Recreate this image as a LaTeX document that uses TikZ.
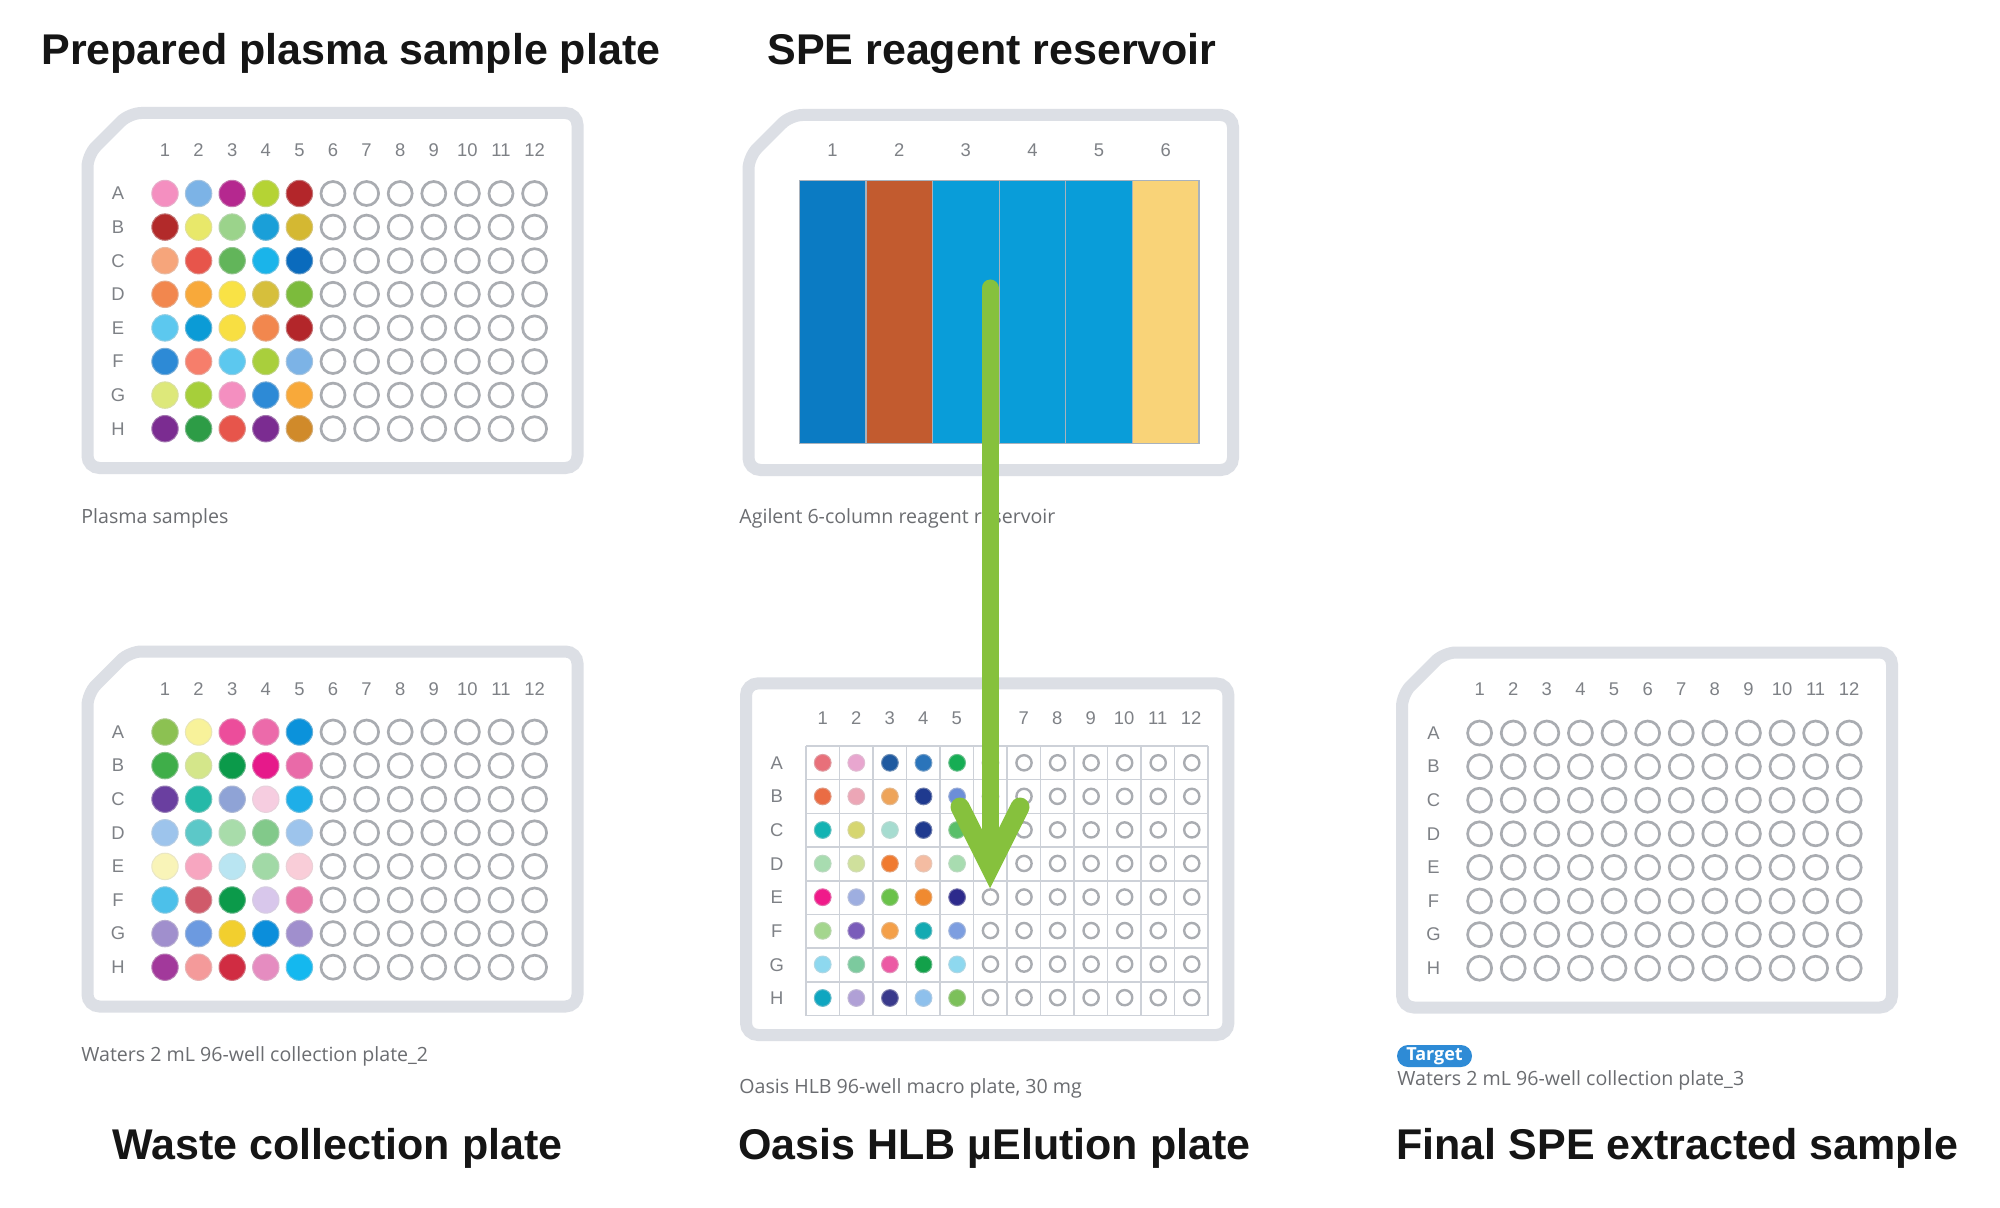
\documentclass[tikz,border=0pt]{standalone}
\usepackage{fontspec}
\setmainfont{Liberation Sans}
\newfontfamily\osans{Open Sans}
\definecolor{framegray}{HTML}{DCDFE5}
\definecolor{wellgray}{HTML}{A9ACB1}
\definecolor{lblgray}{HTML}{7E8186}
\definecolor{capgray}{HTML}{6B6D71}
\definecolor{titleblack}{HTML}{151515}
\definecolor{gridgray}{HTML}{CDD1D8}
\definecolor{resgray}{HTML}{A9B2BC}
\definecolor{arrgreen}{HTML}{86C13D}
\definecolor{badgeblue}{HTML}{2E8BD6}
\tikzset{
  plateframe/.style={draw=framegray, line width=6pt, rounded corners=6pt, fill=white},
  emptywell/.style={draw=wellgray, line width=1.35pt},
  smallempty/.style={draw=wellgray, line width=1.2pt},
  platelbl/.style={font=\fontsize{9.2pt}{10pt}\selectfont, text=lblgray, inner sep=0pt},
  caption/.style={font=\osans\fontsize{9.8pt}{11pt}\selectfont, text=capgray, inner sep=0pt, anchor=base west},
  titletext/.style={font=\bfseries\fontsize{21.5pt}{24pt}\selectfont, text=titleblack, inner sep=0pt, anchor=base west},
  badge/.style={fill=badgeblue, text=white, rounded corners=5.5pt, minimum width=37.5pt, minimum height=11pt, inner sep=0pt, font=\osans\bfseries\fontsize{9pt}{10pt}\selectfont},
  gridline/.style={draw=gridgray, line width=0.75pt},
  arrowshaft/.style={draw=arrgreen, line width=8.5pt, line cap=round},
  arrowhead/.style={draw=arrgreen, line width=9.5pt, line cap=round, line join=miter},
}
% filled wells: #1 c0, #2 r0, #3 pitch, #4 radius, #5 list (row-major, 5 per row)
\newcommand\mycolwells[5]{%
  \foreach \h [count=\i from 0] in {#5}{%
    \pgfmathtruncatemacro\myrow{\i/5}%
    \pgfmathtruncatemacro\mycol{\i-5*\myrow}%
    \definecolor{tmpw}{HTML}{\h}%
    \filldraw[fill=tmpw, draw=tmpw!80!gray!70, line width=0.5pt] ({#1+\mycol*#3},{#2+\myrow*#3}) circle[radius=#4];
  }}
% empty wells: #1 c0, #2 r0, #3 pitch, #4 radius, #5 first column index, #6 style
\newcommand\myemptywells[6]{%
  \foreach \cidx in {#5,...,11}{%
    \foreach \ridx in {0,...,7}{%
      \draw[#6] ({#1+\cidx*#3},{#2+\ridx*#3}) circle[radius=#4];
    }}}
% labels: #1 prefix, #2 c0, #3 r0, #4 pitch, #5 col label y, #6 row label x
\newcommand\myplatelabels[6]{%
  \foreach \n [count=\k from 0] in {1,...,12}{%
    \node[platelbl] (#1c\n) at ({#2+\k*#4},#5) {\n};}
  \foreach \l [count=\k from 0] in {A,B,C,D,E,F,G,H}{%
    \node[platelbl] (#1r\l) at (#6,{#3+\k*#4}) {\l};}}
\begin{document}
\begin{tikzpicture}[x=0.5pt,y=-0.5pt]
\useasboundingbox (0,0) rectangle (2000,1208);
\fill[white] (0,0) rectangle (2000,1208);

% ---------- titles ----------
\node[titletext] (t1) at (41,65) {Prepared plasma sample plate};
\node[titletext] (t2) at (767,65) {SPE reagent reservoir};
\node[titletext] (t3) at (112,1159) {Waste collection plate};
\node[titletext] (t4) at (738,1159) {Oasis HLB µElution plate};
\node[titletext] (t5) at (1396,1159) {Final SPE extracted sample};

% ---------- plate 1: plasma samples ----------
\draw[plateframe] (87.5,155) -- (129.5,113) -- (577.5,113) -- (577.5,468) -- (87.5,468) -- cycle;
\myplatelabels{pa}{165}{193.5}{33.6}{150.5}{118}
\mycolwells{165}{193.5}{33.6}{13.2}{F48FC0,7CB3E6,B5288F,B5D334,B3262A,
 B22A2A,E8E86A,9BD38B,1A9FD8,D4B832,
 F6A57B,E7554B,62B55A,1AB4EA,0A6BBD,
 F2874E,F8A93A,F9E245,D6BF3C,7CBB3C,
 5CC8EF,0B9BD6,F8DF42,F2874E,B3262A,
 2D8AD6,F67E6B,5CC8EF,A9CF3C,7CB3E6,
 DDE87A,A6CF3A,F48FC0,2D8AD6,F8A93A,
 7B2C91,2D9C46,E7554B,7B2C91,D08A2A}
\myemptywells{165}{193.5}{33.6}{12}{5}{emptywell}
\node[caption] (c1) at (81,523) {Plasma samples};

% ---------- plate 2: reagent reservoir ----------
\draw[plateframe] (748.5,157) -- (790.5,115) -- (1233,115) -- (1233,470) -- (748.5,470) -- cycle;
\foreach \n/\h [count=\k from 0] in {1/0B7BC3,2/C25B2F,3/099DD9,4/099DD9,5/099DD9,6/F9D378}{%
  \definecolor{tmpr}{HTML}{\h}%
  \filldraw[fill=tmpr, draw=resgray, line width=0.6pt] ({799.3+\k*66.6},180.4) rectangle ({799.3+(\k+1)*66.6},443.4);
  \node[platelbl] (rc\n) at ({832.6+\k*66.6},150) {\n};
}
\node[caption] (c2) at (739,523) {Agilent 6-column reagent reservoir};

% ---------- plate 3: waste collection ----------
\draw[plateframe] (87.5,693.5) -- (129.5,651.5) -- (577.5,651.5) -- (577.5,1006.5) -- (87.5,1006.5) -- cycle;
\myplatelabels{pw}{165}{732}{33.6}{689}{118}
\mycolwells{165}{732}{33.6}{13.2}{8CC152,F8F29A,EC4D9B,EC6AAA,0B92DB,
 3FAE49,D4E68A,0B9A4A,E6198A,E96AA8,
 6A3FA0,25B9A8,8FA3D6,F6CDE0,1EAEE8,
 9DC4EC,5CC8C8,A8DCAA,82C98A,9DC4EC,
 F9F4B8,F7A6C0,B9E5F2,A1D9A6,F9CDD8,
 4CC0EA,D05A6A,0B9A4A,D8C7EB,E87AAA,
 A08FCD,6C9AE0,F2CF2E,0B8EDB,A08FCD,
 A2399B,F49A9A,D02C42,E58CC0,14B8EF}
\myemptywells{165}{732}{33.6}{12}{5}{emptywell}
\node[caption] (c3) at (81,1061) {Waters 2 mL 96-well collection plate\_2};

% ---------- plate 5: Oasis HLB ----------
\draw[plateframe] (746,683.4) rectangle (1228.4,1035);
\foreach \k in {0,...,12}{\draw[gridline] ({806+\k*33.5},746) -- ({806+\k*33.5},1015.5);}
\foreach \k in {0,...,8}{\draw[gridline] (806,{746+\k*33.69}) -- (1208,{746+\k*33.69});}
\foreach \n [count=\k from 0] in {1,...,12}{\node[platelbl] (poc\n) at ({822.7+\k*33.5},718) {\n};}
\foreach \l [count=\k from 0] in {A,B,C,D,E,F,G,H}{\node[platelbl] (por\l) at (776.8,{762.8+\k*33.69}) {\l};}
\mycolwells{822.7}{762.8}{33.6}{8.4}{E8707A,E8A6CF,1F5AA0,2A74BA,16AD54,
 EA6C44,ECA6B6,EEA45A,1F3A8F,6C8ED8,
 13B3B3,D6D670,A6DCD0,1F3A8F,5ABF6A,
 A8DCB0,CFE09C,F07A30,F4BCA2,A8DCB0,
 F01A8A,9EAEE0,6AC24A,F08A30,2D2A8C,
 A4D68E,7A5CBA,F4A04A,13AAB2,7D9EE0,
 8ED8EF,7CCA9E,EC5AA4,12A14A,8ED8EF,
 0FA6C0,B0A0D6,3A3A8C,8EC0EC,7CC05A}
\myemptywells{822.7}{762.8}{33.55}{7.6}{5}{smallempty}
\node[caption] (c4) at (739,1093) {Oasis HLB 96-well macro plate, 30 mg};

% ---------- plate 6: final extracted sample ----------
\draw[plateframe] (1402,694.5) -- (1444,652.5) -- (1892,652.5) -- (1892,1007.5) -- (1402,1007.5) -- cycle;
\myplatelabels{pf}{1479.6}{733}{33.6}{689.5}{1433.5}
\myemptywells{1479.6}{733}{33.6}{12}{0}{emptywell}
\node[badge] (tg) at (1434.5,1056) {Target};
\node[caption] (c5) at (1397,1085) {Waters 2 mL 96-well collection plate\_3};

% ---------- transfer arrow ----------
\coordinate (arrS) at (990,288);
\coordinate (arrV) at (990,867);
\coordinate (arrL) at (960,807);
\coordinate (arrR) at (1020,807);
\draw[arrowshaft] (arrS) -- (arrV);
\draw[arrowhead] (arrL) -- (arrV) -- (arrR);
\end{tikzpicture}
\end{document}
